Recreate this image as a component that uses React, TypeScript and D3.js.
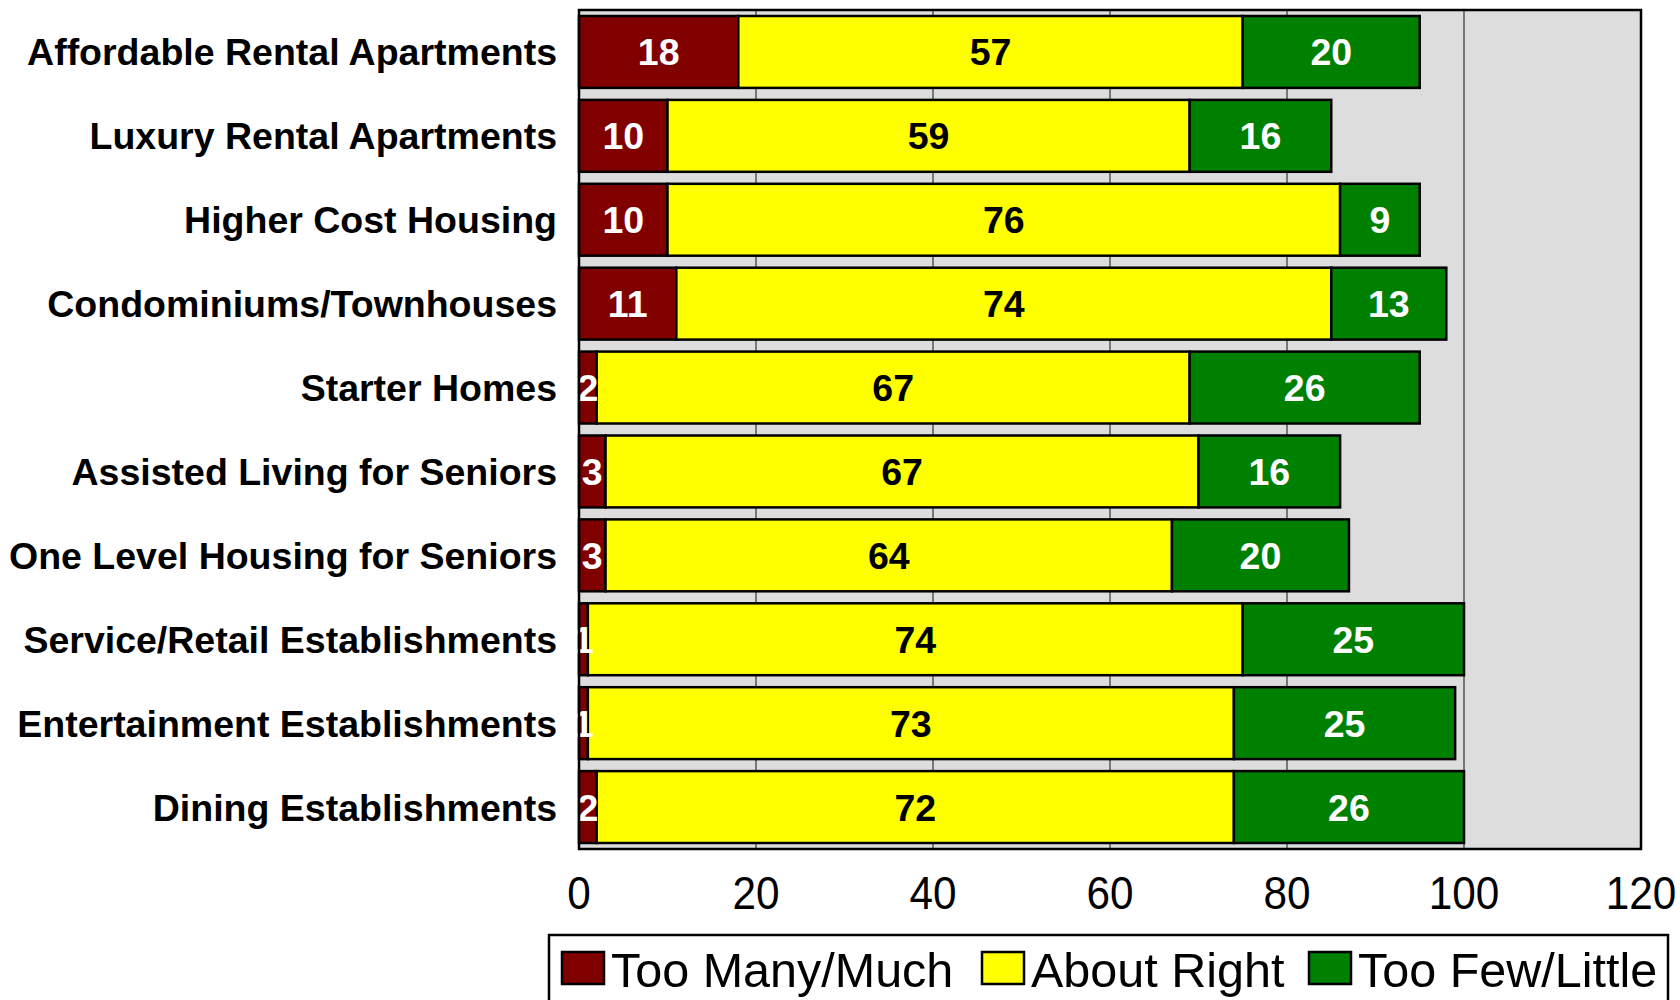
import React, { useRef, useEffect } from 'react';
import * as d3 from 'd3';

const categories = [
  'Affordable Rental Apartments',
  'Luxury Rental Apartments',
  'Higher Cost Housing',
  'Condominiums/Townhouses',
  'Starter Homes',
  'Assisted Living for Seniors',
  'One Level Housing for Seniors',
  'Service/Retail Establishments',
  'Entertainment Establishments',
  'Dining Establishments',
];
const tooMany = [18, 10, 10, 11, 2, 3, 3, 1, 1, 2];
const aboutRight = [57, 59, 76, 74, 67, 67, 64, 74, 73, 72];
const tooFew = [20, 16, 9, 13, 26, 16, 20, 25, 25, 26];
const seriesNames = ['Too Many/Much', 'About Right', 'Too Few/Little'];
const xTicks = [0, 20, 40, 60, 80, 100, 120];

const App = () => {
  const svgRef = useRef<SVGSVGElement | null>(null);

  // fill, label colour per series
  const colors = ['#800000', '#FFFF00', '#008000'];
  const labelColors = ['#FFFFFF', '#000000', '#FFFFFF'];

  useEffect(() => {
    if (!svgRef.current) return;
    const svg = d3.select(svgRef.current);
    svg.selectAll('*').remove();

    const left = 579, right = 1641, top = 10, bottom = 849;
    const font = '"Liberation Sans", Arial, sans-serif';

    const x = d3.scaleLinear().domain([0, 120]).range([left, right]);
    const y = d3.scaleBand<string>().domain(categories).range([top, bottom]).paddingInner(0.143).paddingOuter(0.0715);

    // plot background
    svg.append('rect')
      .attr('x', left).attr('y', top)
      .attr('width', right - left).attr('height', bottom - top)
      .attr('fill', '#DDDDDD');

    // gridlines
    svg.selectAll('line.grid')
      .data(xTicks.slice(1, -1))
      .enter()
      .append('line')
      .attr('x1', d => x(d)).attr('x2', d => x(d))
      .attr('y1', top).attr('y2', bottom)
      .attr('stroke', '#333333')
      .attr('stroke-width', 1.2);

    // stacked data
    const rows = categories.map((c, i) => ({ cat: c, vals: [tooMany[i], aboutRight[i], tooFew[i]] }));
    const stack = d3.stack<{ cat: string; vals: number[] }, number>()
      .keys([0, 1, 2])
      .value((d, k) => d.vals[k]);
    const layers = stack(rows);

    layers.forEach((layer, k) => {
      const g = svg.append('g');
      g.selectAll('rect')
        .data(layer)
        .enter()
        .append('rect')
        .attr('x', d => x(d[0]))
        .attr('y', d => y(d.data.cat)!)
        .attr('width', d => x(d[1]) - x(d[0]))
        .attr('height', y.bandwidth())
        .attr('fill', colors[k])
        .attr('stroke', '#000')
        .attr('stroke-width', 2.5);
    });

    layers.forEach((layer, k) => {
      svg.append('g').selectAll('text')
        .data(layer)
        .enter()
        .append('text')
        .attr('x', d => (x(d[0]) + x(d[1])) / 2)
        .attr('y', d => y(d.data.cat)! + y.bandwidth() / 2)
        .attr('dy', '0.36em')
        .attr('text-anchor', 'middle')
        .attr('fill', labelColors[k])
        .attr('font-family', font)
        .attr('font-weight', 'bold')
        .attr('font-size', '37.5px')
        .text(d => d.data.vals[k]);
    });

    // plot border
    svg.append('rect')
      .attr('x', left).attr('y', top)
      .attr('width', right - left).attr('height', bottom - top)
      .attr('fill', 'none')
      .attr('stroke', '#000')
      .attr('stroke-width', 2.5);

    // category labels
    svg.append('g').selectAll('text')
      .data(categories)
      .enter()
      .append('text')
      .attr('x', 557)
      .attr('y', d => y(d)! + y.bandwidth() / 2)
      .attr('dy', '0.36em')
      .attr('text-anchor', 'end')
      .attr('font-family', font)
      .attr('font-weight', 'bold')
      .attr('font-size', '37.5px')
      .attr('fill', '#000')
      .text(d => d);

    // x tick labels (slightly narrow glyphs like the original)
    svg.append('g').selectAll('text')
      .data(xTicks)
      .enter()
      .append('text')
      .attr('transform', d => `translate(${x(d)},909) scale(0.92,1)`)
      .attr('text-anchor', 'middle')
      .attr('font-family', font)
      .attr('font-size', '46px')
      .attr('fill', '#000')
      .text(d => d);

    // legend
    svg.append('rect')
      .attr('x', 549).attr('y', 935)
      .attr('width', 1119).attr('height', 90)
      .attr('fill', '#fff')
      .attr('stroke', '#000')
      .attr('stroke-width', 2.5);

    const legendX = [562, 982, 1309];
    const item = svg.selectAll('g.legend')
      .data(seriesNames)
      .enter()
      .append('g')
      .attr('transform', (d, i) => `translate(${legendX[i]},952)`);
    item.append('rect')
      .attr('width', 42).attr('height', 32)
      .attr('fill', (d, i) => colors[i])
      .attr('stroke', '#000')
      .attr('stroke-width', 2.5);
    item.append('text')
      .attr('x', 49)
      .attr('y', 35)
      .attr('font-family', font)
      .attr('font-size', '48.5px')
      .attr('fill', '#000')
      .text(d => d);
  }, []);

  return (
    <svg
      ref={svgRef}
      width={1680}
      height={1000}
      style={{ position: 'absolute', left: 0, top: 0, background: '#fff' }}
    />
  );
};

export default App;
